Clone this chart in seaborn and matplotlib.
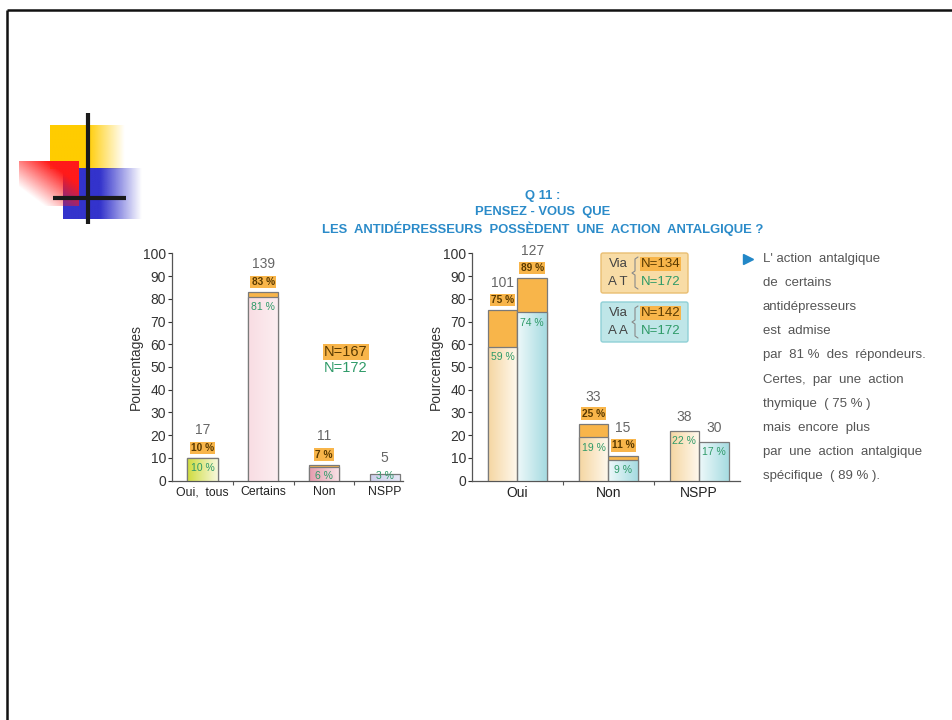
import numpy as np
import pandas as pd
import matplotlib
matplotlib.use("Agg")
import matplotlib.pyplot as plt
import seaborn as sns
from matplotlib.colors import LinearSegmentedColormap, to_rgb
from matplotlib.patches import FancyBboxPatch

# left chart: "Oui, tous / Certains / Non / NSPP"
left_cats = ["Oui,  tous", "Certains", "Non", "NSPP"]
left_counts = [17, 139, 11, 5]
left_pct_167 = [10, 83, 7, None]
left_pct_172 = [10, 81, 6, 3]

# right chart: via AT / via AA
right_cats = ["Oui", "Non", "NSPP"]
at_counts = [101, 33, 38]
aa_counts = [127, 15, 30]
at_pct_134 = [75, 25, None]
aa_pct_142 = [89, 11, None]
at_pct_172 = [59, 19, 22]
aa_pct_172 = [74, 9, 17]

ORANGE = "#F8B54A"
GREEN = "#2E9A68"
BROWN = "#5A3A00"
GREY = "#666666"
BLUE = "#2B8BC9"
EDGE = "#7a7a7a"

left_grad = [("#CFDC3E", "#F7F8DC"), ("#F9DDE3", "#FCEEF1"),
             ("#E49CAD", "#F9E3E8"), ("#CDD0EC", "#E6E8F6")]
right_grad = {"AT": ("#F5D6A2", "#FFF9EE"), "AA": ("#EEF9FA", "#A6DBE1")}

sns.set_style("ticks")
plt.rcParams["font.family"] = ["Liberation Sans", "DejaVu Sans"]

W, H = 953, 720
fig = plt.figure(figsize=(W / 100, H / 100), dpi=100)
bg = fig.add_axes([0, 0, 1, 1], zorder=0)
bg.axis("off")


def px_axes(x0, x1, y_top, y_bot):
    ax = fig.add_axes([x0 / W, (H - y_bot) / H, (x1 - x0) / W, (y_bot - y_top) / H], zorder=2)
    ax.patch.set_visible(False)
    return ax


def grad_fill(ax, patch, c0, c1):
    x, y = patch.get_x(), patch.get_y()
    w, h = patch.get_width(), patch.get_height()
    cmap = LinearSegmentedColormap.from_list("g", [c0, c1])
    im = ax.imshow(np.linspace(0, 1, 64).reshape(1, -1), cmap=cmap, aspect="auto",
                   extent=[x, x + w, y, y + h], interpolation="bilinear",
                   zorder=patch.get_zorder() - 0.2)
    im.set_clip_path(patch)
    patch.set_facecolor("none")


def green_lbl(ax, x, h):
    ax.text(x, max(h - 4.5, 1.9), f"{h:g} %", ha="center", va="center",
            fontsize=7.5, color=GREEN, zorder=6, clip_on=False)


def orange_lbl(ax, x, h):
    ax.text(x, h + 4.5, f"{h:g} %", ha="center", va="center", fontsize=7.3,
            weight="bold", color=BROWN, zorder=6, clip_on=False,
            bbox=dict(boxstyle="square,pad=0.12", fc=ORANGE, ec="none"))


def count_lbl(ax, x, y, n):
    ax.text(x, y, str(n), ha="center", va="center", fontsize=10,
            color=GREY, zorder=6, clip_on=False)


def style_axes(ax, ncat, right):
    ax.set_ylim(0, 100)
    ax.set_yticks(range(0, 101, 10))
    ax.set_xlim(-0.5, right)
    ax.set_xticks(np.arange(ncat - 1) + 0.5, minor=True)
    ax.tick_params(axis="y", labelsize=10, length=3, width=0.8, pad=1.2, colors="#333333")
    ax.tick_params(axis="x", which="major", length=0, pad=4, colors="#222222")
    ax.tick_params(axis="x", which="minor", length=3, width=0.8, color="#555555")
    for s in ("top", "right"):
        ax.spines[s].set_visible(False)
    for s in ("left", "bottom"):
        ax.spines[s].set_color("#555555")
        ax.spines[s].set_linewidth(0.9)
    ax.set_xlabel("")
    ax.set_ylabel("Pourcentages", fontsize=10, color="#333333", labelpad=0)


# ---------- left chart ----------
ax1 = px_axes(172, 403, 253.3, 480.7)
df1 = pd.DataFrame({"cat": left_cats, "n167": left_pct_167,
                    "n172": left_pct_172, "count": left_counts})
sns.barplot(data=df1.dropna(subset=["n167"]), x="cat", y="n167", order=left_cats,
            color=ORANGE, width=0.5, errorbar=None, edgecolor=EDGE, linewidth=0.9,
            saturation=1, ax=ax1, zorder=2)
n_out = len(ax1.patches)
sns.barplot(data=df1, x="cat", y="n172", order=left_cats, hue="cat",
            palette=[g[0] for g in left_grad], legend=False, width=0.5, errorbar=None,
            edgecolor=EDGE, linewidth=0.9, saturation=1, ax=ax1, zorder=3)
outer1 = sorted(ax1.patches[:n_out], key=lambda p: p.get_x())
inner1 = sorted(ax1.patches[n_out:], key=lambda p: p.get_x())
for p, (c0, c1) in zip(inner1, left_grad):
    grad_fill(ax1, p, c0, c1)

has_outer = [i for i, v in enumerate(left_pct_167) if v is not None]
outer_of = dict(zip(has_outer, outer1))
for i, p in enumerate(inner1):
    xc = p.get_x() + p.get_width() / 2
    green_lbl(ax1, xc, left_pct_172[i])
    if i in outer_of:
        orange_lbl(ax1, xc, left_pct_167[i])
        count_lbl(ax1, xc, left_pct_167[i] + 12.5, left_counts[i])
    else:
        count_lbl(ax1, xc, left_pct_172[i] + 7, left_counts[i])
style_axes(ax1, len(left_cats), 3.3)
ax1.tick_params(axis="x", labelsize=8.8)

# ---------- right chart ----------
ax2 = px_axes(472, 740, 253.3, 480.7)
rows = []
for via, cnt, outer, inner in [("AT", at_counts, at_pct_134, at_pct_172),
                               ("AA", aa_counts, aa_pct_142, aa_pct_172)]:
    for c, n, o, v in zip(right_cats, cnt, outer, inner):
        rows.append({"cat": c, "via": via, "count": n, "outer": o, "inner": v})
df2 = pd.DataFrame(rows)
sns.barplot(data=df2.dropna(subset=["outer"]), x="cat", y="outer", hue="via",
            order=right_cats, hue_order=["AT", "AA"], palette=[ORANGE, ORANGE],
            legend=False, width=0.65, errorbar=None, edgecolor=EDGE, linewidth=0.9,
            saturation=1, ax=ax2, zorder=2)
n_out = len(ax2.patches)
sns.barplot(data=df2, x="cat", y="inner", hue="via", order=right_cats,
            hue_order=["AT", "AA"],
            palette={k: v[0] for k, v in right_grad.items()}, legend=False,
            width=0.65, errorbar=None, edgecolor=EDGE, linewidth=0.9,
            saturation=1, ax=ax2, zorder=3)
inner2 = sorted(ax2.patches[n_out:], key=lambda p: p.get_x())

flat = []
for i, c in enumerate(right_cats):
    flat.append(("AT", at_counts[i], at_pct_134[i], at_pct_172[i]))
    flat.append(("AA", aa_counts[i], aa_pct_142[i], aa_pct_172[i]))
for p, (via, n, o, v) in zip(inner2, flat):
    grad_fill(ax2, p, *right_grad[via])
    xc = p.get_x() + p.get_width() / 2
    green_lbl(ax2, xc, v)
    if o is not None:
        orange_lbl(ax2, xc, o)
        count_lbl(ax2, xc, o + 12, n)
    else:
        count_lbl(ax2, xc, v + 6, n)
style_axes(ax2, len(right_cats), 2.45)
ax2.tick_params(axis="x", labelsize=10)

# ---------- slide decoration ----------
bg.plot([7, 7], [10, 720], color="#111111", lw=1.8, solid_capstyle="butt")
bg.plot([7, 953], [10, 10], color="#111111", lw=1.8, solid_capstyle="butt")


def hfade(color, solid):
    u = np.linspace(0, 1, 200)
    arr = np.zeros((2, 200, 4))
    arr[..., :3] = to_rgb(color)
    arr[..., 3] = np.clip((1 - u) / (1 - solid), 0, 1)
    return arr


bg.imshow(hfade("#FFCC00", 0.5), extent=[50, 125, 169, 125], aspect="auto",
          interpolation="bilinear")
bg.imshow(hfade("#3333CC", 0.47), extent=[63, 142, 219, 168], aspect="auto",
          interpolation="bilinear")
u, v = np.meshgrid(np.linspace(0, 1, 100), np.linspace(0, 1, 100))
red = np.zeros((100, 100, 4))
red[..., :3] = to_rgb("#FF1A1A")
red[..., 3] = np.clip(0.95 * u + 0.95 * (1 - v) - 0.4, 0, 1)
bg.imshow(red, extent=[19, 79, 206, 161], aspect="auto", interpolation="bilinear")
bg.plot([88, 88], [113, 224], color="#1a1a1a", lw=3, solid_capstyle="butt")
bg.plot([53, 126], [198, 198], color="#1a1a1a", lw=3, solid_capstyle="butt")

# title
for y, s in [(196, "Q 11 :"), (212, "PENSEZ - VOUS  QUE"),
             (229, "LES  ANTIDÉPRESSEURS  POSSÈDENT  UNE  ACTION  ANTALGIQUE ?")]:
    bg.text(543, y, s, ha="center", va="center", fontsize=9.4, weight="bold", color=BLUE)

# N labels on left chart
bg.text(346, 352, "N=167", ha="center", va="center", fontsize=10.5, color=BROWN,
        bbox=dict(boxstyle="square,pad=0.06", fc=ORANGE, ec="none"))
bg.text(346, 368, "N=172", ha="center", va="center", fontsize=10.5, color=GREEN)

# via boxes
for y0, fc, ec, via2, nn in [(253, "#F8DCA6", "#E9BE72", "A T", "N=134"),
                             (302, "#BFE6E8", "#8FD0D6", "A A", "N=142")]:
    bg.add_patch(FancyBboxPatch((601, y0), 87, 40, boxstyle="round,pad=0,rounding_size=2",
                                fc=fc, ec=ec, lw=1))
    bg.text(618, y0 + 11, "Via", ha="center", va="center", fontsize=9.5, color="#444444")
    bg.text(618, y0 + 29, via2, ha="center", va="center", fontsize=9.5, color="#444444")
    bx = [638, 635, 635, 632, 635, 635, 638]
    by = [y0 + 4, y0 + 6, y0 + 18, y0 + 20, y0 + 22, y0 + 34, y0 + 36]
    bg.plot(bx, by, color="#8a8a8a", lw=0.8)
    bg.text(641, y0 + 11, nn, ha="left", va="center", fontsize=9.5, color=BROWN,
            bbox=dict(boxstyle="square,pad=0.06", fc=ORANGE, ec="none"))
    bg.text(641, y0 + 29, "N=172", ha="left", va="center", fontsize=9.5, color=GREEN)

# comment text on the right
lines = ["L' action  antalgique", "de  certains", "antidépresseurs", "est  admise",
         "par  81 %  des  répondeurs.", "Certes,  par  une  action",
         "thymique  ( 75 % )", "mais  encore  plus", "par  une  action  antalgique",
         "spécifique  ( 89 % )."]
for i, s in enumerate(lines):
    bg.text(763, 259 + i * 24.1, s, ha="left", va="center", fontsize=9.5, color="#555555")
bg.plot([748], [259], marker=">", color="#2287C7", markersize=6.5, linestyle="none")

bg.set_xlim(0, W)
bg.set_ylim(H, 0)

fig.savefig("out.png", dpi=100)
